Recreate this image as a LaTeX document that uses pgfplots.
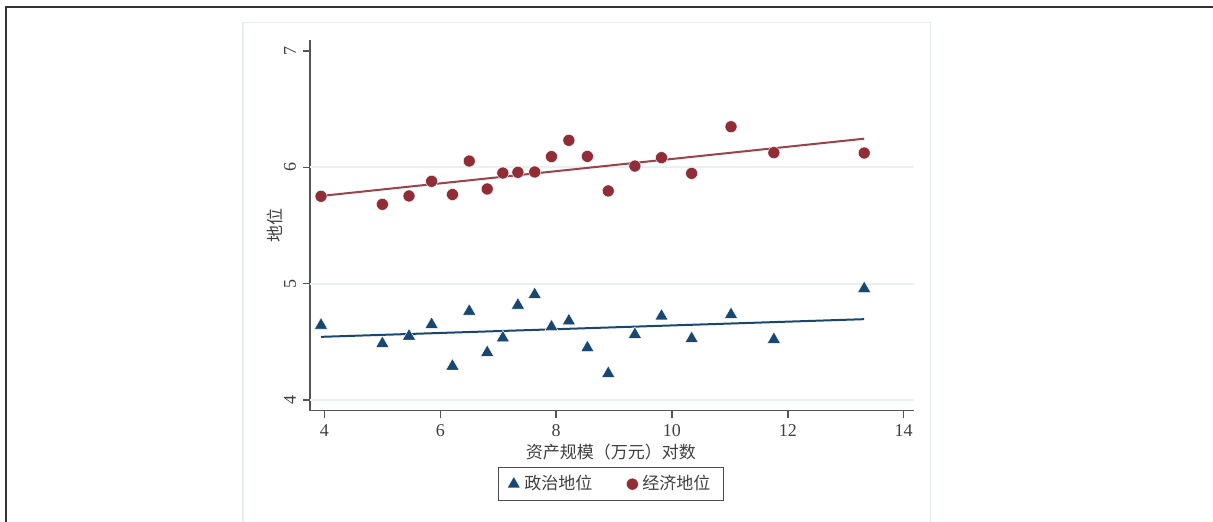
\documentclass[border=0pt]{standalone}
\usepackage{fontspec}
\setmainfont{Liberation Serif}
\newfontfamily\cjk{Noto Sans CJK SC}
\usepackage{pgfplots}
\pgfplotsset{compat=1.18}
\definecolor{stnavy}{RGB}{26,71,111}
\definecolor{stmaroon}{RGB}{144,45,55}
\definecolor{gridc}{RGB}{232,240,242}
\definecolor{boxc}{RGB}{230,238,240}
\definecolor{axc}{RGB}{85,85,85}
\begin{document}
\begin{tikzpicture}
\useasboundingbox (0,0) rectangle (606.5pt,260.5pt);
\fill[white] (0,0) rectangle (606.5pt,260.5pt);
% outer frame
\draw[line width=1pt,color=black!80] (2.75pt,-2pt) -- (2.75pt,256.75pt) -- (610pt,256.75pt);
% inner graph region
\draw[line width=0.6pt,color=boxc] (121.5pt,-2pt) -- (121.5pt,249.25pt) -- (465.25pt,249.25pt) -- (465.25pt,-2pt);
\begin{axis}[
  at={(155pt,55.25pt)}, anchor=south west,
  scale only axis, width=302pt, height=185pt,
  xmin=3.75, xmax=14.18, ymin=3.91, ymax=7.09,
  axis x line*=bottom, axis y line*=left,
  axis line style={color=axc, line width=0.75pt, -},
  xtick={4,6,8,10,12,14}, ytick={4,5,6,7},
  tick align=outside, major tick length=3.5pt,
  tick style={color=axc, line width=0.75pt},
  extra y ticks={4,5,6}, extra y tick labels={},
  extra y tick style={grid=major, major tick length=0pt},
  grid style={color=gridc, line width=1pt},
  /pgf/number format/assume math mode=true,
  ticklabel style={font=\fontsize{9}{10}\selectfont, color=black!75},
  yticklabel style={rotate=90, anchor=south},
  xlabel={\cjk 资产规模（万元）对数},
  ylabel={\cjk 地位},
  label style={font=\fontsize{8.5}{10}\selectfont, color=black!75},
  xlabel style={at={(axis description cs:0.498,-0.112)}, anchor=center},
  ylabel style={at={(axis description cs:-0.058,0.5)}, anchor=center},
  legend style={at={(axis description cs:0.498,-0.199)}, anchor=center,
    legend columns=2, draw=black!70, line width=0.6pt,
    font=\cjk\fontsize{8.5}{10}\selectfont, text=black!75,
    inner xsep=4.5pt, inner ysep=2pt,
    /tikz/every even column/.append style={column sep=15pt}},
  legend cell align=left,
  clip=false,
]
\addplot[only marks, mark=triangle*, mark size=3.8pt, color=stnavy, mark options={draw=white, line width=0.2pt, fill=stnavy}] coordinates {
(3.94,4.643) (5.00,4.485) (5.46,4.549) (5.85,4.649) (6.21,4.291)
(6.50,4.763) (6.81,4.408) (7.08,4.534) (7.34,4.815) (7.63,4.906)
(7.92,4.629) (8.22,4.680) (8.54,4.449) (8.90,4.228) (9.36,4.563)
(9.82,4.721) (10.34,4.528) (11.02,4.734) (11.76,4.520) (13.32,4.957)
};
\addlegendentry{政治地位}
\addplot[only marks, mark=*, mark size=3pt, color=stmaroon, mark options={draw=white, line width=0.2pt, fill=stmaroon}] coordinates {
(3.94,5.751) (5.00,5.682) (5.46,5.754) (5.85,5.880) (6.21,5.766)
(6.50,6.054) (6.81,5.814) (7.08,5.951) (7.34,5.957) (7.63,5.960)
(7.92,6.092) (8.22,6.232) (8.54,6.094) (8.90,5.797) (9.36,6.011)
(9.82,6.083) (10.34,5.948) (11.02,6.349) (11.76,6.126) (13.32,6.123)
};
\addlegendentry{经济地位}
\addplot[no marks, color=stnavy, line width=1pt, forget plot] coordinates {(3.94,4.543) (13.32,4.695)};
\addplot[no marks, color=stmaroon!90!white, line width=1pt, forget plot] coordinates {(3.94,5.754) (13.32,6.246)};
\end{axis}
\end{tikzpicture}
\end{document}
